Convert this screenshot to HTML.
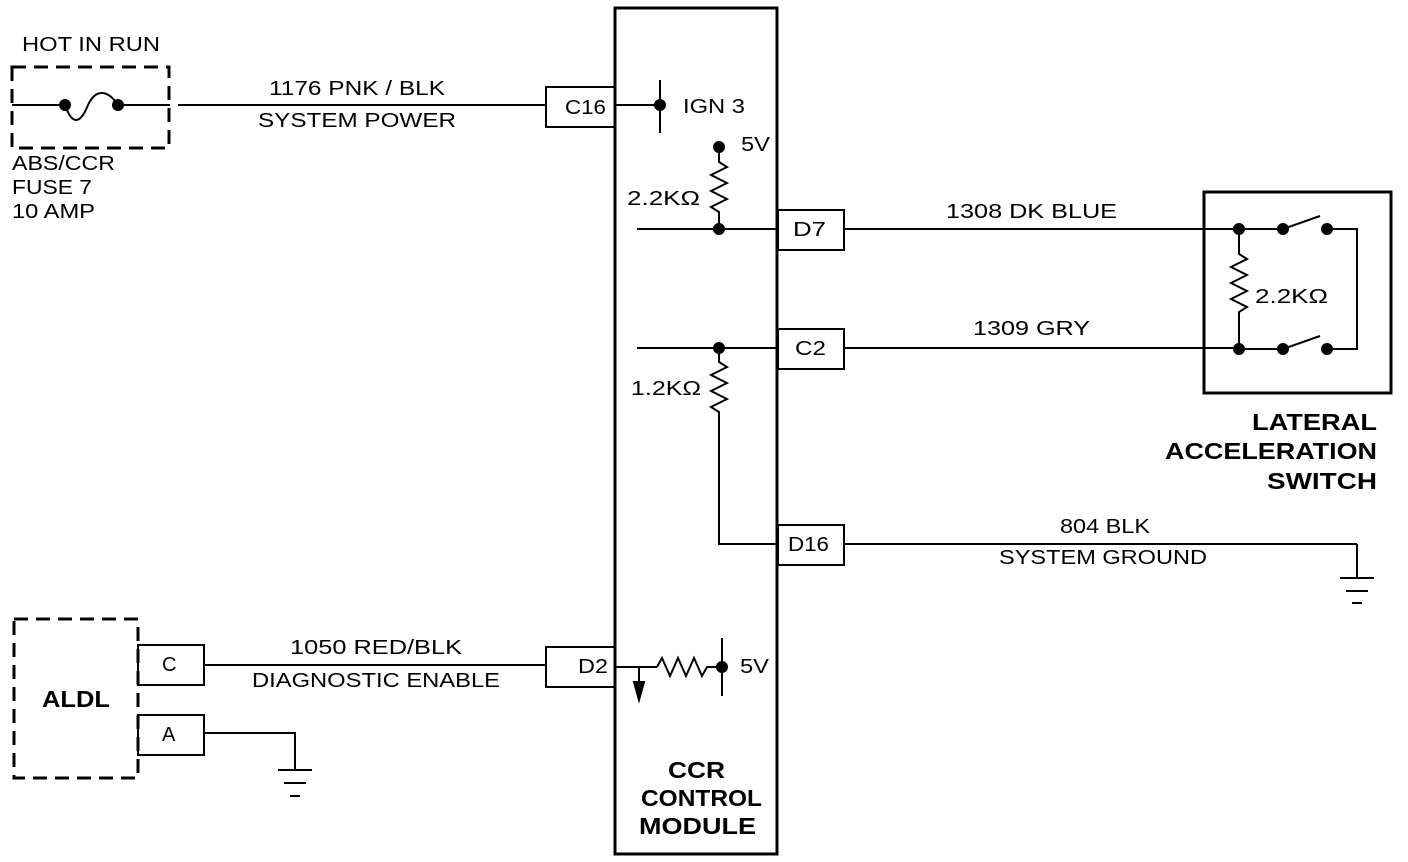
<!DOCTYPE html>
<html><head><style>body{margin:0;background:#fff}svg{display:block}text{font-family:"Liberation Sans",sans-serif;font-size:20px;fill:#000}.b{font-size:23px;font-weight:bold}</style></head><body>
<svg width="1408" height="862" viewBox="0 0 1408 862" xmlns="http://www.w3.org/2000/svg" stroke="#000" fill="none" stroke-width="2">
<rect x="12" y="67" width="157" height="81" stroke-width="3" stroke-dasharray="14,8"/>
<line x1="12" y1="105" x2="65" y2="105"/>
<path d="M65 105 C72 125 80 125 88 105 C96 88 108 90 118 105"/>
<circle cx="65" cy="105" r="5" fill="#000"/><circle cx="118" cy="105" r="5" fill="#000"/>
<line x1="118" y1="105" x2="170" y2="105"/>
<line x1="178" y1="105" x2="546" y2="105"/>
<rect x="615" y="8" width="162" height="846" stroke-width="3"/>
<rect x="546" y="87" width="69" height="40"/>
<rect x="778" y="210" width="66" height="40"/>
<rect x="778" y="329" width="66" height="40"/>
<rect x="778" y="525" width="66" height="40"/>
<rect x="546" y="647" width="69" height="40"/>
<line x1="615" y1="105" x2="660" y2="105"/><line x1="660" y1="80" x2="660" y2="133"/><circle cx="660" cy="105" r="5" fill="#000"/>
<circle cx="719" cy="147" r="5" fill="#000"/>
<path d="M719 147 V162 l8 5 -16 8 16 8 -16 8 16 8 -16 8 8 5 V229"/>
<line x1="637" y1="229" x2="778" y2="229"/><circle cx="719" cy="229" r="5" fill="#000"/>
<line x1="637" y1="348" x2="778" y2="348"/><circle cx="719" cy="348" r="5" fill="#000"/>
<path d="M719 348 V362 l8 5 -16 8 16 8 -16 8 16 8 -16 8 8 5 V544 H778"/>
<line x1="615" y1="667" x2="657" y2="667"/>
<path d="M657 667 l5 -9 8 18 8 -18 8 18 8 -18 8 18 5 -9 H722"/>
<line x1="722" y1="638" x2="722" y2="696"/><circle cx="722" cy="667" r="5" fill="#000"/>
<line x1="639" y1="667" x2="639" y2="690"/><path d="M634 682 L639 700 L644 682 Z" fill="#000"/>
<line x1="844" y1="229" x2="1239" y2="229"/>
<line x1="844" y1="348" x2="1239" y2="348"/>
<line x1="844" y1="544" x2="1357" y2="544"/>
<line x1="1357" y1="544" x2="1357" y2="578"/>
<line x1="1340" y1="578" x2="1374" y2="578"/><line x1="1346" y1="591" x2="1368" y2="591"/><line x1="1352" y1="603" x2="1362" y2="603"/>
<rect x="1204" y="192" width="187" height="201" stroke-width="3"/>
<circle cx="1239" cy="229" r="5" fill="#000"/><circle cx="1283" cy="229" r="5" fill="#000"/><circle cx="1327" cy="229" r="5" fill="#000"/>
<circle cx="1239" cy="349" r="5" fill="#000"/><circle cx="1283" cy="349" r="5" fill="#000"/><circle cx="1327" cy="349" r="5" fill="#000"/>
<line x1="1239" y1="229" x2="1283" y2="229"/><line x1="1283" y1="229" x2="1320" y2="216"/>
<line x1="1239" y1="349" x2="1283" y2="349"/><line x1="1283" y1="349" x2="1320" y2="336"/>
<path d="M1327 229 H1357 V349 H1327"/>
<path d="M1239 229 V254 l8 5 -16 8 16 8 -16 8 16 8 -16 8 16 8 -8 5 V349"/>
<rect x="14" y="619" width="124" height="159" stroke-width="3" stroke-dasharray="14,8"/>
<rect x="138" y="645" width="66" height="40"/>
<rect x="138" y="715" width="66" height="40"/>
<line x1="204" y1="665" x2="546" y2="665"/>
<path d="M204 733 H295 V770"/>
<line x1="278" y1="770" x2="312" y2="770"/><line x1="284" y1="783" x2="306" y2="783"/><line x1="290" y1="796" x2="300" y2="796"/>
<g stroke="none" fill="#000">
<text x="22" y="51" textLength="138" lengthAdjust="spacingAndGlyphs">HOT IN RUN</text>
<text x="12" y="170" textLength="103" lengthAdjust="spacingAndGlyphs">ABS/CCR</text>
<text x="12" y="194" textLength="80" lengthAdjust="spacingAndGlyphs">FUSE 7</text>
<text x="12" y="218" textLength="83" lengthAdjust="spacingAndGlyphs">10 AMP</text>
<text x="269" y="95" textLength="176" lengthAdjust="spacingAndGlyphs">1176 PNK / BLK</text>
<text x="258" y="127" textLength="198" lengthAdjust="spacingAndGlyphs">SYSTEM  POWER</text>
<text x="565" y="114" textLength="41" lengthAdjust="spacingAndGlyphs">C16</text>
<text x="683" y="113" textLength="62" lengthAdjust="spacingAndGlyphs">IGN 3</text>
<text x="741" y="151" textLength="29" lengthAdjust="spacingAndGlyphs">5V</text>
<text x="627" y="205" textLength="73" lengthAdjust="spacingAndGlyphs">2.2KΩ</text>
<text x="793" y="236" textLength="33" lengthAdjust="spacingAndGlyphs">D7</text>
<text x="795" y="355" textLength="31" lengthAdjust="spacingAndGlyphs">C2</text>
<text x="788" y="551" textLength="41" lengthAdjust="spacingAndGlyphs">D16</text>
<text x="578" y="673" textLength="30" lengthAdjust="spacingAndGlyphs">D2</text>
<text x="631" y="395" textLength="70" lengthAdjust="spacingAndGlyphs">1.2KΩ</text>
<text x="740" y="673" textLength="29" lengthAdjust="spacingAndGlyphs">5V</text>
<text x="946" y="218" textLength="171" lengthAdjust="spacingAndGlyphs">1308  DK BLUE</text>
<text x="973" y="335" textLength="117" lengthAdjust="spacingAndGlyphs">1309  GRY</text>
<text x="1060" y="533" textLength="90" lengthAdjust="spacingAndGlyphs">804 BLK</text>
<text x="999" y="564" textLength="208" lengthAdjust="spacingAndGlyphs">SYSTEM GROUND</text>
<text x="1255" y="303" textLength="73" lengthAdjust="spacingAndGlyphs">2.2KΩ</text>
<text class="b" x="1252" y="430" textLength="125" lengthAdjust="spacingAndGlyphs">LATERAL</text>
<text class="b" x="1165" y="459" textLength="212" lengthAdjust="spacingAndGlyphs">ACCELERATION</text>
<text class="b" x="1267" y="489" textLength="110" lengthAdjust="spacingAndGlyphs">SWITCH</text>
<text x="290" y="654" textLength="172" lengthAdjust="spacingAndGlyphs">1050  RED/BLK</text>
<text x="252" y="687" textLength="248" lengthAdjust="spacingAndGlyphs">DIAGNOSTIC ENABLE</text>
<text x="162" y="671">C</text><text x="162" y="741">A</text>
<text class="b" x="42" y="707" textLength="68" lengthAdjust="spacingAndGlyphs">ALDL</text>
<text class="b" x="668" y="778" textLength="57" lengthAdjust="spacingAndGlyphs">CCR</text>
<text class="b" x="641" y="806" textLength="121" lengthAdjust="spacingAndGlyphs">CONTROL</text>
<text class="b" x="639" y="834" textLength="117" lengthAdjust="spacingAndGlyphs">MODULE</text>
</g>
</svg></body></html>
